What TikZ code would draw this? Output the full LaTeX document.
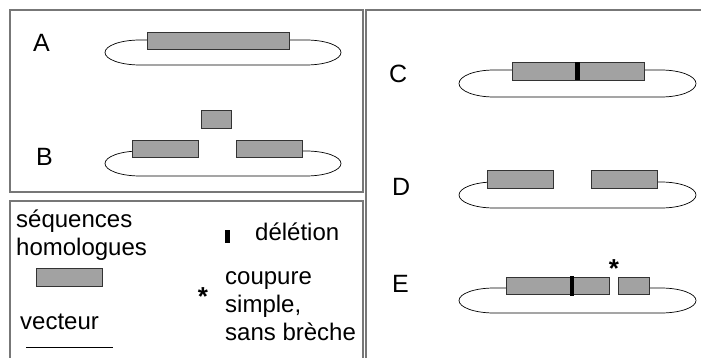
\documentclass[tikz,border=0pt]{standalone}
\usepackage{fontspec}
\setmainfont{Liberation Sans}
\usepackage{tikz}
\usetikzlibrary{positioning}
\definecolor{seqgris}{HTML}{A2A2A2}
\definecolor{cadre}{HTML}{777777}

\tikzset{
  panneau/.style={draw=cadre, line width=1.1pt},
  sequence/.style={draw=black!80, fill=seqgris, line width=0.7pt},
  vecteur/.style={draw=black, line width=0.7pt},
  deletion/.style={fill=black, draw=none},
  lettre/.style={anchor=base west, inner sep=0pt, font=\fontsize{25}{30}\selectfont},
  legende/.style={anchor=base west, inner sep=0pt, font=\fontsize{24}{28}\selectfont},
  etoile/.style={anchor=base, inner sep=0pt, font=\fontsize{26}{28}\selectfont\bfseries},
}

\begin{document}
\begin{tikzpicture}[x=1pt, y=-1pt]
\useasboundingbox (0,0) rectangle (701,358);
% cadres
\draw[panneau] (10,10) rectangle (363,192);
\draw[panneau] (10,201) rectangle (363,372);
\draw[panneau] (366,10) rectangle (715,372);

% vecteurs (boucles), ouvertes entre les sequences
\foreach \xa/\xb/\yh/\yb/\r/\sg/\sd in {140/306/40/65/12.5/147/289,
    140/306/151/176/12.5/132/302, 494/661/70/97/13.5/512/644,
    494/661/182/208/13/487/657, 494/661/288/313/12.5/506/649} {
  \draw[vecteur] (\sd,\yh) -- (\xb,\yh)
    arc[start angle=90, end angle=-90, x radius=35pt, y radius=\r pt]
    -- (\xa,\yb)
    arc[start angle=270, end angle=90, x radius=35pt, y radius=\r pt] -- (\sg,\yh);
}

% sequences homologues
\draw[sequence] (147,32) rectangle (289,49);
\draw[sequence] (201,110) rectangle (231,128);
\draw[sequence] (132,140) rectangle (198,157);
\draw[sequence] (236,140) rectangle (302,157);
\draw[sequence] (512,62) rectangle (644,80);
\draw[sequence] (487,170) rectangle (553,188);
\draw[sequence] (591,170) rectangle (657,188);
\draw[sequence] (506,277) rectangle (609,294);
\draw[sequence] (618,277) rectangle (649,294);

% deletions
\fill[deletion] (575,62) rectangle (580,80);
\fill[deletion] (570,276) rectangle (574,296);
\node[etoile] (coupureE) at (614,277) {*};

% lettres
\node[lettre] (lettreA) at (33,52) {A};
\node[lettre] (lettreB) at (36,166) {B};
\node[lettre] (lettreC) at (389,83) {C};
\node[lettre] (lettreD) at (392,196) {D};
\node[lettre] (lettreE) at (392,292) {E};

% legende
\node[legende] (seq) at (16,227) {séquences};
\node[legende] (homol) at (16,255) {homologues};
\draw[sequence] (36,268) rectangle (102,286);
\node[legende] (vect) at (20,329) {vecteur};
\coordinate (vectA) at (26,347);
\coordinate (vectB) at (113,347);
\draw[vecteur] (vectA) -- (vectB);
\fill[deletion] (225,230) rectangle (230,243);
\node[legende] (delet) at (255,240) {délétion};
\node[etoile] (etoile) at (203,305) {*};
\node[legende] (coup1) at (225,284) {coupure};
\node[legende] (coup2) at (225,312) {simple,};
\node[legende] (coup3) at (225,340) {sans brèche};
\end{tikzpicture}
\end{document}
